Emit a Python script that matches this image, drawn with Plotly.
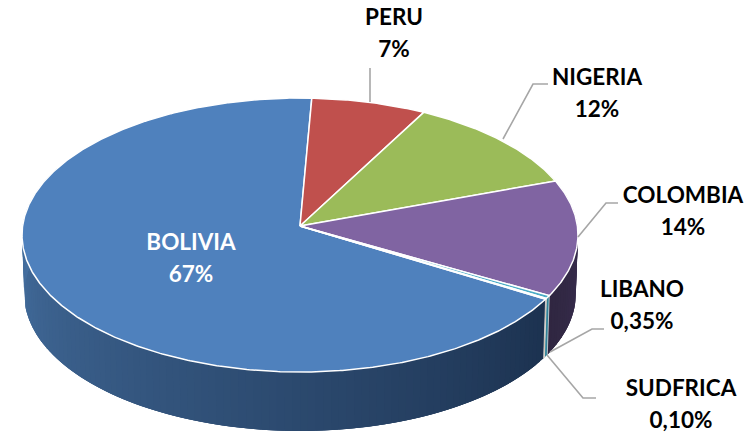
import math
import plotly.graph_objects as go

# ---- data ----
countries = ["PERU", "NIGERIA", "COLOMBIA", "LIBANO", "SUDFRICA", "BOLIVIA"]
shares = [7.1, 11.7, 13.7, 0.35, 0.10, 67.05]
share_labels = ["7%", "12%", "14%", "0,35%", "0,10%", "67%"]

# ---- style ----
top_colors = ["#c0504d", "#9bbb59", "#8064a2", "#4bacc6", "#f79646", "#4f81bd"]
wall_from = ["#c0504d", "#9bbb59", "#3f3258", "#2f8197", "#a8672f", "#1c3250"]
wall_to = ["#c0504d", "#9bbb59", "#2f2640", "#2f8197", "#a8672f", "#4a77aa"]
label_colors = ["#000000"] * 5 + ["#ffffff"]
label_xy = [(394, 19), (597, 79), (683, 197), (642, 291), (681, 390), (191, 244)]
line_gap = 32.5
leader_paths = [
    [(370, 102), (370, 68)],
    [(503, 139), (533, 84), (548, 84)],
    [(578, 237), (606, 203), (618, 203)],
    [(550, 352), (592, 329), (604, 329)],
    [(547, 355), (583, 398), (596, 398)],
]
START_DEG = 2.6
CX, CY, A, B, K = 300.0, 226.0, 277.4, 136.4, 0.0657
DEPTH = 59.0
SHRINK = 0.992


def proj(deg):
    t = math.radians(deg)
    X, Y = math.sin(t), math.cos(t)
    w = 1 + K * Y
    return CX + A * X / w, CY - B * Y / w


def proj_low(deg):
    x, y = proj(deg)
    return CX + (x - CX) * SHRINK, y + DEPTH


def hex2rgb(h):
    return tuple(int(h[i:i + 2], 16) for i in (1, 3, 5))


def mix(c1, c2, f):
    a, b = hex2rgb(c1), hex2rgb(c2)
    return "rgb(%d,%d,%d)" % tuple(round(a[i] + (b[i] - a[i]) * f) for i in range(3))


def poly(xs, ys, fill, line=None, width=0.0):
    return go.Scatter(x=xs, y=ys, mode="lines", fill="toself", fillcolor=fill,
                      line=dict(color=line or fill, width=width),
                      hoverinfo="skip", showlegend=False)


def arc(a0, a1, step=0.5):
    n = max(2, int(abs(a1 - a0) / step) + 1)
    return [a0 + (a1 - a0) * i / (n - 1) for i in range(n)]


# slice angles derived from the values
total = sum(shares)
edges = [START_DEG]
for s in shares:
    edges.append(edges[-1] + s / total * 360)

fig = go.Figure()

# side walls (only the front-facing part), as overlapping shaded strips
VIS0, VIS1 = 62.0, 296.0
for i, name in enumerate(countries):
    a0, a1 = max(edges[i], VIS0), min(edges[i + 1], VIS1)
    if a1 <= a0:
        continue
    grid = arc(a0, a1, 1.5)
    for k, g0 in enumerate(grid[:-1]):
        g1 = grid[min(k + 3, len(grid) - 1)]     # overlap the next strips: no seams
        f = (g0 - a0) / (a1 - a0)
        c = mix(wall_from[i], wall_to[i], f)
        fine = arc(g0, g1, 0.5)
        up = [proj(g) for g in fine]
        lo = [proj_low(g) for g in reversed(fine)]
        pts = up + lo + [up[0]]
        fig.add_trace(poly([p[0] for p in pts], [p[1] for p in pts], c, c, 0))

# white separators between wall pieces
for e in edges[1:]:
    if VIS0 < e < VIS1:
        p, q = proj(e), proj_low(e)
        fig.add_trace(go.Scatter(x=[p[0], q[0]], y=[p[1], q[1]], mode="lines",
                                 line=dict(color="#e8e8e8", width=0.7),
                                 hoverinfo="skip", showlegend=False))

# top face
for i in [5, 0, 1, 2, 3, 4]:
    pts = [proj(g) for g in arc(edges[i], edges[i + 1])]
    xs = [CX] + [p[0] for p in pts] + [CX]
    ys = [CY] + [p[1] for p in pts] + [CY]
    fig.add_trace(poly(xs, ys, top_colors[i], "#ffffff", 1.5))

# leader lines
for path in leader_paths:
    fig.add_trace(go.Scatter(x=[p[0] for p in path], y=[p[1] for p in path], mode="lines",
                             line=dict(color="#a6a6a6", width=1.6),
                             hoverinfo="skip", showlegend=False))

# labels
for name, pct, (x, y), col in zip(countries, share_labels, label_xy, label_colors):
    fig.add_trace(go.Scatter(x=[x, x], y=[y, y + line_gap], mode="text", text=[name, pct],
                             textposition="middle center", cliponaxis=False,
                             textfont=dict(family="Lato", size=22.5, color=col, weight="bold"),
                             hoverinfo="skip", showlegend=False))

fig.update_layout(
    width=756, height=432, margin=dict(l=0, r=0, t=0, b=0),
    paper_bgcolor="#ffffff", plot_bgcolor="#ffffff",
    xaxis=dict(range=[0, 756], visible=False, fixedrange=True),
    yaxis=dict(range=[432, 0], visible=False, fixedrange=True),
)
fig.write_html("out.html", config={"displayModeBar": False},
               post_script="document.body.style.margin='0';document.body.style.overflow='hidden';")
